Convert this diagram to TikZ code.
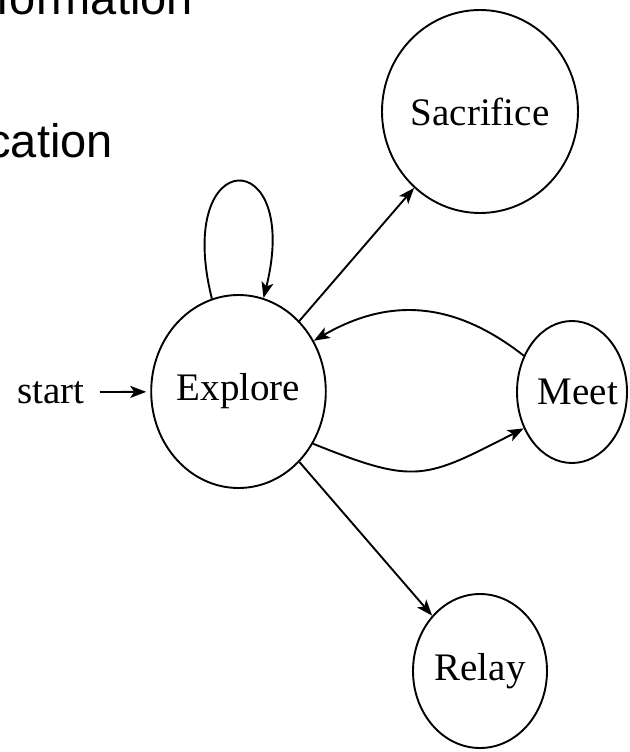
\documentclass[tikz,border=0pt]{standalone}
\usepackage{fontspec}
\setmainfont{Liberation Serif}
\newfontfamily\slidefont{Liberation Sans}
\usetikzlibrary{shapes.geometric,arrows.meta}
\newcommand\statefont{\fontsize{39}{44}\selectfont}
\begin{document}
\begin{tikzpicture}[x=1pt,y=1pt,
  state/.style={draw, ellipse, line width=1.9pt, inner sep=0pt, font=\statefont},
  arr/.style={-{Stealth[length=16pt,width=12pt,inset=4pt]}, line width=1.9pt},
  slide/.style={font=\slidefont\fontsize{47}{54}\selectfont, anchor=base east, inner sep=0pt}]
\useasboundingbox (0,0) rectangle (629,-752);
\clip (0,0) rectangle (629,-752);

% slide text behind the automaton
\node[slide] (line1) at (193,-15) {formation};
\node[slide] (line2) at (113,-157) {cation};

% states
\node[state, minimum width=167pt, minimum height=193pt] (explore) at (238.5,-391.5) {Explore};
\node[state, minimum width=174pt, minimum height=203pt] (sacrifice) at (480,-111.5) {Sacrifice};
\node[state, minimum width=110pt, minimum height=142pt,
      label={[font=\statefont, xshift=6pt]center:Meet}] (meet) at (572,-392) {};
\node[state, minimum width=134pt, minimum height=154pt] (relay) at (480,-671) {Relay};
\node[font=\statefont, anchor=base east, inner sep=0pt] (start) at (85,-403) {start};

% transitions
\draw[arr, shorten <=15pt, shorten >=4pt] (start) -- (explore);
\draw[arr] (explore.106) to[out=104, in=76, distance=160pt] (explore.75);
\draw[arr] (explore) -- (sacrifice);
\draw[arr] (meet.143) to[out=142, in=30, looseness=1.07] (explore.34);
\draw[arr] (explore.-35) to[out=-22, in=-153, looseness=1.35] (meet.217);
\draw[arr] (explore) -- (relay);
\end{tikzpicture}
\end{document}
